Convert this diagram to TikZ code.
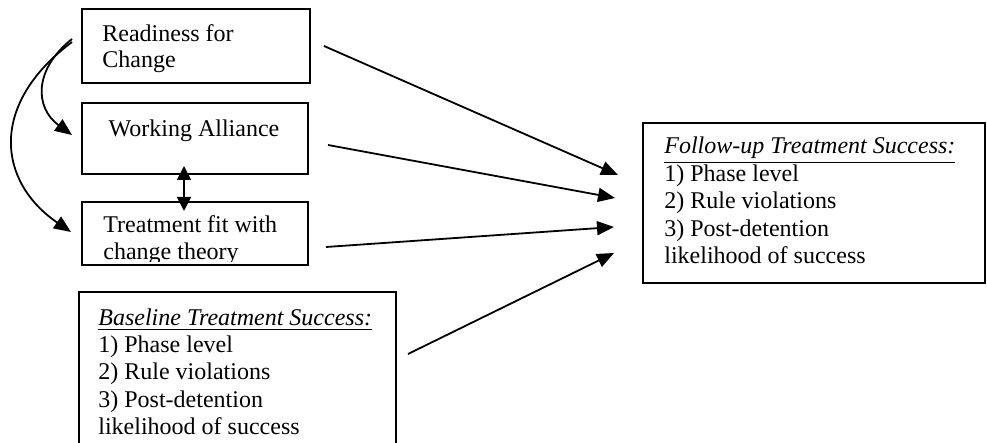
\documentclass[tikz,border=0pt]{standalone}
\usepackage{fontspec}
\setmainfont{Liberation Serif}
\usetikzlibrary{arrows.meta,fit}
\begin{document}
\begin{tikzpicture}[x=0.5pt,y=-0.5pt,
  box/.style={draw,line width=1pt,inner sep=0pt},
  txt/.style={anchor=base west,inner sep=0pt,font=\fontsize{12pt}{13.8pt}\selectfont},
  conn/.style={line width=0.9pt,-{Triangle[length=8.5pt,width=7pt]}},
  dconn/.style={line width=0.9pt,{Triangle[length=7pt,width=7pt]}-{Triangle[length=7pt,width=7pt]}}]
\useasboundingbox (0,0) rectangle (987,443);
\begin{scope}
\clip (0,0) rectangle (987,443);
% boxes
\node[box,fit={(82,9) (310,83)}] (rfc) {};
\node[box,fit={(82,103) (308,174)}] (wa) {};
\node[box,fit={(82,202) (308,265)}] (tf) {};
\node[box,fit={(79,292) (396,460)}] (bl) {};
\node[box,fit={(643,123) (985,283)}] (fu) {};
% texts
\node[txt] (t1a) at (102,42) {Readiness for};
\node[txt] (t1b) at (102,68) {Change};
\node[txt,anchor=base] (t2) at (194,137) {Working Alliance};
\begin{scope}
\clip (84,204) rectangle (306,262);
\node[txt] (t3a) at (103,233) {Treatment fit with};
\node[txt] (t3b) at (103,260) {change theory};
\end{scope}
\node[txt] (t4a) at (98,326) {\underline{\textit{Baseline Treatment Success:}}};
\node[txt] (t4b) at (98,353) {1) Phase level};
\node[txt] (t4c) at (98,380) {2) Rule violations};
\node[txt] (t4d) at (98,408) {3) Post-detention};
\node[txt] (t4e) at (98,435) {likelihood of success};
\node[txt] (t5a) at (664,154) {\underline{\textit{Follow-up Treatment Success:}}};
\node[txt] (t5b) at (664,182) {1) Phase level};
\node[txt] (t5c) at (664,209) {2) Rule violations};
\node[txt] (t5d) at (664,237) {3) Post-detention};
\node[txt] (t5e) at (664,264) {likelihood of success};
\end{scope}
% connector end points
\coordinate (s1) at (324,46);  \coordinate (e1) at (618,175);
\coordinate (s2) at (328,145); \coordinate (e2) at (615,198);
\coordinate (s3) at (326,247); \coordinate (e3) at (614,227);
\coordinate (s4) at (408,354); \coordinate (e4) at (614,253);
\coordinate (ca) at (72,39);   \coordinate (cae) at (72,135);
\coordinate (cb) at (72,42);   \coordinate (cbe) at (71,232);
\coordinate (da) at (184,166); \coordinate (db) at (184,211);
% connectors
\draw[conn] (s1) -- (e1);
\draw[conn] (s2) -- (e2);
\draw[conn] (s3) -- (e3);
\draw[conn] (s4) -- (e4);
\draw[conn] (ca) .. controls (33,70) and (35,108) .. (cae);
\draw[conn] (cb) .. controls (-12,105) and (-2,182) .. (cbe);
\draw[dconn] (da) -- (db);
\end{tikzpicture}
\end{document}
